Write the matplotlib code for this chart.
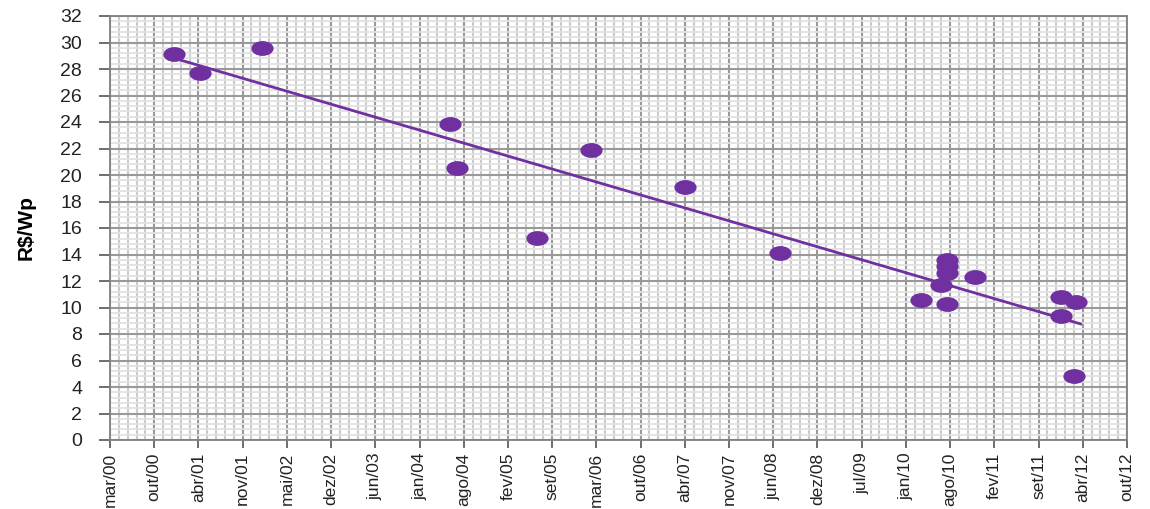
import numpy as np
import matplotlib
matplotlib.use('Agg')
import matplotlib.pyplot as plt
import matplotlib.dates as mdates
from matplotlib.path import Path
from matplotlib.transforms import Affine2D
from datetime import datetime

# price survey: date of quote and price in R$/Wp
dates = ['2000-12-30', '2001-04-27', '2002-02-01', '2004-05-31', '2004-07-01',
         '2005-06-29', '2006-02-28', '2007-04-29', '2008-07-02', '2010-03-31',
         '2010-06-29', '2010-07-30', '2010-07-30', '2010-07-30', '2010-07-30',
         '2010-11-30', '2011-12-26', '2011-12-26', '2012-03-03', '2012-02-24']
prices = [29.1, 27.7, 29.6, 23.85, 20.5,
          15.25, 21.9, 19.1, 14.1, 10.6,
          11.7, 10.3, 12.6, 13.1, 13.6,
          12.3, 10.8, 9.35, 10.45, 4.85]

tick_labels = ['mar/00', 'out/00', 'abr/01', 'nov/01', 'mai/02', 'dez/02',
               'jun/03', 'jan/04', 'ago/04', 'fev/05', 'set/05', 'mar/06',
               'out/06', 'abr/07', 'nov/07', 'jun/08', 'dez/08', 'jul/09',
               'jan/10', 'ago/10', 'fev/11', 'set/11', 'abr/12', 'out/12']

purple = '#7030a0'

plt.rcParams['font.family'] = ['Liberation Sans', 'DejaVu Sans']

x = mdates.date2num([datetime.strptime(d, '%Y-%m-%d') for d in dates])
y = np.array(prices)

# axis runs in steps of 200 days, minor every 40 days
start = mdates.date2num(datetime(2000, 3, 16))
major = start + 200 * np.arange(len(tick_labels))
minor = start + 40 * np.arange(5 * (len(tick_labels) - 1) + 1)

fig = plt.figure(figsize=(11.5, 5.09), dpi=100)
ax = fig.add_axes([110 / 1150, 1 - 440 / 509, 1017 / 1150, 424 / 509])

ax.set_xlim(major[0], major[-1])
ax.set_ylim(0, 32)
ax.set_xticks(major)
ax.set_xticklabels(tick_labels, rotation=90, fontsize=12.5, color='#222222')
ax.set_xticks(minor, minor=True)
ax.set_yticks(np.arange(0, 33, 2))
ax.set_yticks(np.arange(0, 32.01, 0.4), minor=True)
ax.tick_params(axis='y', labelsize=14, labelcolor='#222222', length=8,
               width=1.2, color='#555555', pad=12)
ax.tick_params(axis='x', length=6, width=1.2, color='#555555', pad=3)
ax.tick_params(which='minor', length=0)

ax.grid(which='major', axis='both', color='#999999', lw=1.5)
ax.grid(which='minor', axis='x', color='#cccccc', lw=1.5)
ax.grid(which='minor', axis='y', color='#e2e2e2', lw=1.3)
ax.set_axisbelow(True)
for s in ax.spines.values():
    s.set_color('#808080')
    s.set_linewidth(1.3)

# elliptic dot marker
oval = Path.unit_circle().transformed(Affine2D().scale(1.5, 1.0))
ax.plot(x, y, linestyle='none', marker=oval, markersize=16,
        color=purple, markeredgewidth=0, zorder=3)

# linear trend across the sampled range
k, b = np.polyfit(x, y, 1)
xt = np.array([x.min() - 5, x.max() + 20])
ax.plot(xt, k * xt + b, color=purple, lw=2.0, zorder=4)

ax.set_ylabel('R$/Wp', fontsize=15, fontweight='bold')
ax.yaxis.set_label_coords(-74 / 1017, 0.5)

fig.savefig('out.png', dpi=100)
